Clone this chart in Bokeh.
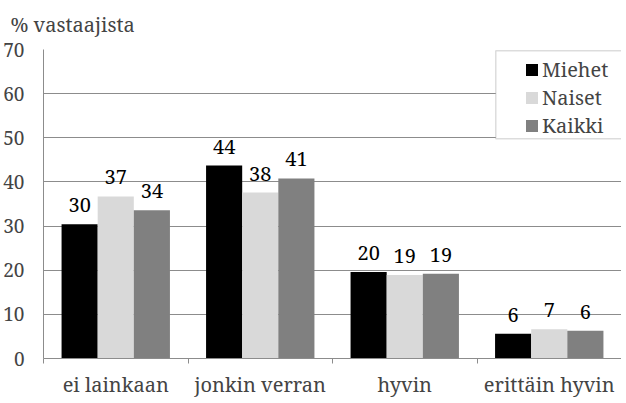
from bokeh.plotting import figure
from bokeh.models import (FactorRange, Range1d, LinearAxis, FixedTicker,
                          Legend, LegendItem, BoxAnnotation, ColumnDataSource)
from bokeh.transform import dodge
from bokeh.core.properties import value
from bokeh.embed import file_html
from bokeh.resources import INLINE

# ---- data ----
categories = ["ei lainkaan", "jonkin verran", "hyvin", "erittäin hyvin"]
series_names = ["Miehet", "Naiset", "Kaikki"]
miehet = [30.4, 43.7, 19.6, 5.6]
naiset = [36.7, 37.6, 18.9, 6.6]
kaikki = [33.6, 40.8, 19.2, 6.3]
y_ticks = [0, 10, 20, 30, 40, 50, 60, 70]
title_text = "% vastaajista"

# ---- style ----
colors = ["#000000", "#d9d9d9", "#808080"]
FONT = "Noto Serif"
GRID = "#8c8c8c"

data = dict(cat=categories, Miehet=miehet, Naiset=naiset, Kaikki=kaikki)
for name in series_names:
    data[name + "_lbl"] = [str(round(v)) for v in data[name]]
source = ColumnDataSource(data)

p = figure(width=621, height=400,
           x_range=FactorRange(*categories, range_padding=0),
           y_range=Range1d(y_ticks[0], y_ticks[-1]),
           output_backend="svg", toolbar_location=None,
           x_axis_location=None,
           min_border_left=41, min_border_right=0, min_border_top=49, min_border_bottom=0)
p.outline_line_color = None
p.background_fill_color = "white"

# title
p.title.text = title_text
p.title.text_font = FONT
p.title.text_font_size = "20px"
p.title.text_font_style = "normal"
p.title.align = "left"
p.title.vertical_align = "top"
p.title.offset = -33
p.title.standoff = 20

# y axis
p.yaxis.ticker = y_ticks
p.yaxis.major_tick_out = 0
p.yaxis.major_tick_in = 0
p.yaxis.minor_tick_line_color = None
p.yaxis.axis_line_color = GRID
p.yaxis.major_label_text_font = FONT
p.yaxis.major_label_text_font_size = "19px"
p.yaxis.major_label_standoff = 19
p.ygrid.ticker = y_ticks
p.ygrid.grid_line_color = GRID
p.xgrid.grid_line_color = None

# x axis: category names at category centres, small ticks at category edges
n = len(categories)
centres = [i + 0.5 for i in range(n)]
edges = list(range(n + 1))
x_axis = LinearAxis(ticker=FixedTicker(ticks=centres, minor_ticks=edges),
                    major_label_overrides={c: cat for c, cat in zip(centres, categories)},
                    major_tick_out=0, major_tick_in=0, major_tick_line_color=None,
                    minor_tick_out=5, minor_tick_in=0, minor_tick_line_color=GRID,
                    axis_line_color=GRID,
                    major_label_text_font=FONT, major_label_text_font_size="20px",
                    major_label_standoff=7)
p.add_layout(x_axis, "below")

# bars + labels
offsets = [-0.25, 0.0, 0.25]
renderers = []
for name, color, off in zip(series_names, colors, offsets):
    r = p.vbar(x=dodge("cat", off, range=p.x_range), top=name, width=0.25,
               source=source, fill_color=color, line_color=None)
    renderers.append(r)
    p.text(x=dodge("cat", off, range=p.x_range), y=name, text=name + "_lbl",
           source=source, text_align="center", text_baseline="alphabetic",
           y_offset=-19, text_font=value(FONT), text_font_size="20px",
           text_color="black")

# legend frame + legend
box = BoxAnnotation(left=3.13, right=4.6, top=69.7, bottom=49.8,
                    fill_color="white", fill_alpha=1.0,
                    line_color=GRID, line_width=1.5)
p.add_layout(box)
legend = Legend(items=[LegendItem(label=nm, renderers=[r]) for nm, r in zip(series_names, renderers)],
                location=(481, 219), padding=5, spacing=0, margin=0,
                glyph_width=15, glyph_height=15, label_standoff=3, label_height=28,
                label_text_font=FONT, label_text_font_size="20px",
                border_line_color=None, background_fill_alpha=0)
p.add_layout(legend)

open("out.html", "w").write(file_html(p, INLINE))
